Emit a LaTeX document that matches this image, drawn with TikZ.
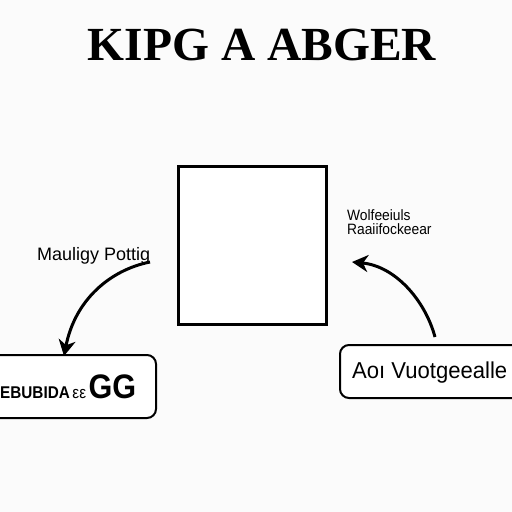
\documentclass[tikz,border=0pt]{standalone}
\usepackage{fontspec}
\setmainfont{Liberation Serif}
\setsansfont{Liberation Sans}
\usetikzlibrary{arrows.meta}
\begin{document}
\begin{tikzpicture}[x=1pt,y=-1pt,
  lbl/.style={font=\sffamily, inner sep=0pt, anchor=west},
  conn/.style={line width=3pt, -{Stealth[length=16pt,width=17pt,inset=5pt]}},
  rbox/.style={draw, line width=2pt, rounded corners=9pt}]
\useasboundingbox (0,0) rectangle (512,512);
\fill[white!98.5!black] (0,0) rectangle (512,512);
\clip (0,0) rectangle (512,512);
\node[font=\bfseries\fontsize{47.5}{47.5}\selectfont, inner sep=0pt] (title) at (262,45) {KIPG A ABGER};
\draw[line width=3pt, fill=white] (178,166) rectangle (326,324);
\node (sq) at (252,245) {};
\node[lbl, font=\sffamily\fontsize{18}{18}\selectfont, xscale=1.0] (ll) at (37,256) {Mauligy Pottig};
\node[lbl, font=\sffamily\fontsize{15}{15}\selectfont, xscale=0.92, align=left, anchor=north west] (rl) at (347,209) {Wolfeeiuls\\[-1pt]Raaiifockeear};
\draw[rbox, fill=white] (-20,355) rectangle (156,418);
\node[lbl, font=\sffamily\bfseries\fontsize{17}{17}\selectfont, xscale=0.9] (lb) at (0,387) {EBUBIDA\,{\mdseries εε}\,\textbf{\fontsize{34}{34}\selectfont GG}};
\draw[rbox, fill=white] (340,345) rectangle (540,398);
\node[lbl, font=\sffamily\fontsize{23}{23}\selectfont, xscale=0.96] (rb) at (352,373) {Aoı Vuotgeealle};
\coordinate (a1) at (150,262);
\coordinate (a2) at (64,356);
\draw[conn] (a1) .. controls (110,270) and (75,300) .. (a2);
\coordinate (b1) at (435,337);
\coordinate (b2) at (352,262);
\draw[conn] (b1) .. controls (425,300) and (395,266) .. (b2);
\end{tikzpicture}
\end{document}
